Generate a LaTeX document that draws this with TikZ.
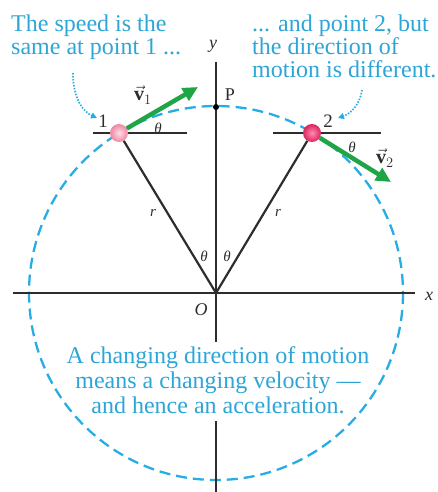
\documentclass[tikz,border=0pt]{standalone}
\usepackage{fontspec}
\setmainfont{Liberation Serif}
\usetikzlibrary{arrows.meta}
\definecolor{cblue}{RGB}{40,172,230}
\definecolor{ctext}{RGB}{45,165,215}
\definecolor{cgreen}{RGB}{30,165,70}
\definecolor{caxis}{RGB}{45,45,45}
\definecolor{pinkAin}{RGB}{255,220,228}
\definecolor{pinkAout}{RGB}{238,135,162}
\definecolor{pinkBin}{RGB}{255,140,175}
\definecolor{pinkBout}{RGB}{220,35,95}
\begin{document}
\begin{tikzpicture}[x=1pt,y=-1pt,
 axis/.style={draw=caxis,line width=2.2pt},
 orbit/.style={draw=cblue,line width=2.3pt,dash pattern=on 11pt off 6pt},
 vel/.style={draw=cgreen,line width=4.5pt,-{Triangle[length=15pt,width=14pt]}},
 note/.style={text=ctext,font=\fontsize{24}{23}\selectfont,inner sep=0pt},
 lbl/.style={text=caxis,inner sep=0pt,font=\fontsize{18}{20}\selectfont},
 small/.style={text=caxis,inner sep=0pt,font=\fontsize{15}{17}\selectfont},
 ballnode/.style={circle,minimum size=18pt,inner sep=0pt,shading=radial},
 hint/.style={draw=cblue,line width=1.7pt,dash pattern=on 1.5pt off 1.5pt,-{Triangle[length=6pt,width=6pt]}}
]
\useasboundingbox (0,0) rectangle (437,492);
% key coordinates
\coordinate (O) at (216,293);
\coordinate (ytop) at (216,62);
\coordinate (ygap1) at (216,342);
\coordinate (ygap2) at (216,421);
\coordinate (ybot) at (216,492);
\coordinate (xl) at (13,293);
\coordinate (xr) at (415,293);
\coordinate (h1a) at (93,133);
\coordinate (h1b) at (187,133);
\coordinate (h2a) at (273,133);
\coordinate (h2b) at (381,133);
\coordinate (v1tip) at (198,87);
\coordinate (v2tip) at (391,182);
% orbit
\draw[orbit] (O) circle[radius=187];
% axes
\draw[axis] (xl) -- (xr);
\draw[axis] (ytop) -- (ygap1);
\draw[axis] (ygap2) -- (ybot);
% horizontal reference lines
\draw[axis] (h1a) -- (h1b);
\draw[axis] (h2a) -- (h2b);
% balls
\node[ballnode,inner color=pinkAin,outer color=pinkAout] (p1) at (119,133) {};
\node[ballnode,inner color=pinkBin,outer color=pinkBout] (p2) at (312,133) {};
% radius lines
\draw[axis] (O) -- (p1);
\draw[axis] (O) -- (p2);
% velocities
\draw[vel] (p1) -- (v1tip);
\draw[vel] (p2) -- (v2tip);
% point P
\node[circle,fill=black,inner sep=0pt,minimum size=6pt] (P) at (216,107) {};
% labels
\node[lbl] (Plbl) at (230,95) {P};
\node[lbl] (ylbl) at (213,46) {\textit{y}};
\node[lbl] (xlbl) at (429,296) {\textit{x}};
\node[lbl] (Olbl) at (201,310) {\textit{O}};
\node[lbl,font=\fontsize{19}{20}\selectfont] (n1) at (103,121) {1};
\node[lbl,font=\fontsize{19}{20}\selectfont] (n2) at (328,121) {2};
\node[small] (r1) at (153,213) {\textit{r}};
\node[small] (r2) at (278,213) {\textit{r}};
\node[small] (t1) at (204,256) {\textit{θ}};
\node[small] (t2) at (227,256) {\textit{θ}};
\node[small] (t3) at (158,128) {\textit{θ}};
\node[small] (t4) at (352,147) {\textit{θ}};
\node[lbl,font=\fontsize{20}{22}\selectfont] (v1lbl) at (143,95) {$\vec{\mathbf{v}}_1$};
\node[lbl,font=\fontsize{20}{22}\selectfont] (v2lbl) at (385,158) {$\vec{\mathbf{v}}_2$};
% notes
\node[note,anchor=north west,align=left] (note1) at (11,15) {The speed is the\\same at point 1 ...};
\node[note,anchor=north west,align=left] (note2) at (252,15) {... and point 2, but\\the direction of\\motion is different.};
\node[note,anchor=north,align=center,font=\fontsize{24}{25}\selectfont] (note3) at (218,346) {A changing direction of motion\\means a changing velocity ---\\and hence an acceleration.};
% hint arrows
\coordinate (h1s) at (73,73);
\coordinate (h1e) at (97,118);
\coordinate (h2s) at (362,90);
\coordinate (h2e) at (338,118);
\draw[hint] (h1s) .. controls (73,100) and (84,112) .. (h1e);
\draw[hint] (h2s) .. controls (360,105) and (350,114) .. (h2e);
\end{tikzpicture}
\end{document}
